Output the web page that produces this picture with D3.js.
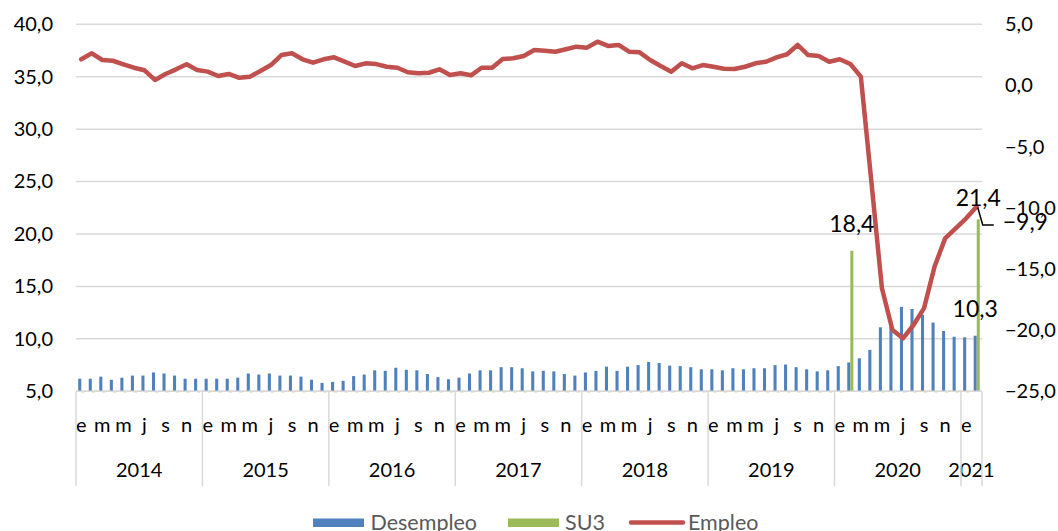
<!DOCTYPE html>
<html>
<head>
<meta charset="utf-8">
<script src="https://cdn.jsdelivr.net/npm/d3@7"></script>
<style>
  body { margin: 0; background: #fff; }
  svg { display: block; font-family: Lato, "Open Sans", sans-serif; }
</style>
</head>
<body>
<script>
var years = ["2014", "2015", "2016", "2017", "2018", "2019", "2020", "2021"];
var monthsPerYear = [12, 12, 12, 12, 12, 12, 12, 2];
var months = ["e", "f", "m", "a", "m", "j", "j", "a", "s", "o", "n", "d"];

// Desempleo (left axis), one value per month from e 2014 to f 2021
var desempleo = [
    6.2, 6.2, 6.4, 6.1, 6.3, 6.5, 6.5, 6.8, 6.7, 6.5, 6.2, 6.2,
    6.2, 6.2, 6.2, 6.3, 6.7, 6.6, 6.7, 6.5, 6.5, 6.4, 6.1, 5.8,
    5.9, 6.0, 6.45, 6.6, 7.0, 6.95, 7.25, 7.05, 7.0, 6.65, 6.35, 6.15,
    6.3, 6.7, 7.0, 7.0, 7.3, 7.3, 7.2, 6.9, 6.95, 6.9, 6.65, 6.5,
    6.8, 6.95, 7.35, 6.95, 7.35, 7.5, 7.8, 7.7, 7.45, 7.4, 7.3, 7.1,
    7.1, 7.0, 7.2, 7.1, 7.2, 7.2, 7.5, 7.55, 7.3, 7.1, 6.9, 7.0,
    7.4, 7.75, 8.15, 8.95, 11.1, 11.2, 13.05, 12.85, 12.3, 11.55, 10.75, 10.2,
    10.15, 10.3
];

// SU3 (left axis), only two months have a value
var su3 = [
    null, null, null, null, null, null, null, null, null, null, null, null,
    null, null, null, null, null, null, null, null, null, null, null, null,
    null, null, null, null, null, null, null, null, null, null, null, null,
    null, null, null, null, null, null, null, null, null, null, null, null,
    null, null, null, null, null, null, null, null, null, null, null, null,
    null, null, null, null, null, null, null, null, null, null, null, null,
    null, 18.4, null, null, null, null, null, null, null, null, null, null,
    null, 21.4
];

// Empleo (right axis)
var empleo = [
    2.14, 2.63, 2.08, 2.02, 1.73, 1.45, 1.24, 0.45, 0.94, 1.32, 1.73, 1.26,
    1.13, 0.77, 0.94, 0.63, 0.72, 1.18, 1.67, 2.49, 2.63, 2.14, 1.86, 2.14,
    2.3, 1.95, 1.59, 1.81, 1.75, 1.53, 1.45, 1.08, 1.0, 1.04, 1.32, 0.86,
    1.0, 0.83, 1.45, 1.45, 2.16, 2.22, 2.41, 2.9, 2.84, 2.76, 2.96, 3.17,
    3.09, 3.58, 3.23, 3.31, 2.76, 2.71, 2.08, 1.59, 1.13, 1.81, 1.4, 1.67,
    1.53, 1.37, 1.35, 1.53, 1.81, 1.94, 2.3, 2.55, 3.31, 2.49, 2.41, 1.94,
    2.14, 1.75, 0.72, -7.87, -16.58, -19.99, -20.67, -19.58, -18.2, -14.8, -12.5, -11.68,
    -10.86, -9.9
];

var leftTicks = [5, 10, 15, 20, 25, 30, 35, 40];
var rightTicks = [-25, -20, -15, -10, -5, 0, 5];

var width = 1058, height = 531;
var plot = { left: 76, right: 982, top: 24.3, bottom: 391.3 };

var fmt = function(d) { return d3.format(".1f")(d).replace(".", ","); };

var svg = d3.select("body").append("svg")
    .attr("width", width)
    .attr("height", height);

var n = desempleo.length;
var x = d3.scaleBand()
    .domain(d3.range(n))
    .range([plot.left, plot.right]);
var bw = x.bandwidth();

var xs = d3.scaleBand()
    .domain(["d", "s"])
    .range([bw * 0.21, bw * 0.79]);

var yL = d3.scaleLinear().domain([5, 40]).range([plot.bottom, plot.top]);
var yR = d3.scaleLinear().domain([-25, 5]).range([plot.bottom, plot.top]);

// gridlines
svg.append("g").selectAll("line")
    .data(leftTicks)
    .enter().append("line")
    .attr("x1", plot.left).attr("x2", plot.right)
    .attr("y1", function(d) { return yL(d); })
    .attr("y2", function(d) { return yL(d); })
    .attr("stroke", "#d9d9d9")
    .attr("stroke-width", 1.5);

// axes labels
var yAxisL = svg.append("g")
    .attr("transform", "translate(" + plot.left + ",0)")
    .call(d3.axisLeft(yL).tickValues(leftTicks).tickSize(0).tickPadding(23).tickFormat(fmt));
var yAxisR = svg.append("g")
    .attr("transform", "translate(" + plot.right + ",0)")
    .call(d3.axisRight(yR).tickValues(rightTicks).tickSize(0).tickPadding(23).tickFormat(fmt));
svg.selectAll(".domain").remove();
svg.selectAll(".tick text")
    .style("font-family", "Lato, 'Open Sans', sans-serif")
    .style("font-size", "20px")
    .attr("fill", "#000");

// bars
svg.append("g").selectAll("rect")
    .data(desempleo)
    .enter().append("rect")
    .attr("x", function(d, i) { return x(i) + xs("d"); })
    .attr("width", xs.bandwidth())
    .attr("y", function(d) { return yL(d); })
    .attr("height", function(d) { return yL(5) - yL(d); })
    .attr("fill", "#4f81bd");

var su3Data = su3.map(function(v, i) { return { i: i, v: v }; });
// empty SU3 months leave a tiny mark on the baseline
svg.append("g").selectAll("line")
    .data(su3Data.filter(function(d) { return d.v === null; }))
    .enter().append("line")
    .attr("x1", function(d) { return x(d.i) + xs("s"); })
    .attr("x2", function(d) { return x(d.i) + xs("s") + xs.bandwidth(); })
    .attr("y1", yL(5) + 0.5).attr("y2", yL(5) + 0.5)
    .attr("stroke", "#9bbb59")
    .attr("stroke-width", 1);

svg.append("g").selectAll("rect")
    .data(su3Data.filter(function(d) { return d.v !== null; }))
    .enter().append("rect")
    .attr("x", function(d) { return x(d.i) + xs("s"); })
    .attr("width", xs.bandwidth())
    .attr("y", function(d) { return yL(d.v); })
    .attr("height", function(d) { return yL(5) - yL(d.v); })
    .attr("fill", "#9bbb59");

// bottom axis line
svg.append("line")
    .attr("x1", plot.left).attr("x2", plot.right)
    .attr("y1", plot.bottom).attr("y2", plot.bottom)
    .attr("stroke", "#d9d9d9").attr("stroke-width", 1.5);

// empleo line
var line = d3.line()
    .x(function(d, i) { return x(i) + bw / 2; })
    .y(function(d) { return yR(d); });

svg.append("path")
    .datum(empleo)
    .attr("d", line)
    .attr("fill", "none")
    .attr("stroke", "#c0504d")
    .attr("stroke-width", 4.5)
    .attr("stroke-linejoin", "round")
    .attr("stroke-linecap", "round");

// category axis: months (every second one) and years
var catG = svg.append("g")
    .style("font-size", "20px")
    .attr("fill", "#000");

catG.selectAll("text.month")
    .data(d3.range(n).filter(function(i) { return i % 2 === 0; }))
    .enter().append("text")
    .attr("class", "month")
    .attr("x", function(i) { return x(i) + bw / 2; })
    .attr("y", 425)
    .attr("dy", "0.35em")
    .attr("text-anchor", "middle")
    .text(function(i) { return months[i % 12]; });

var starts = [0];
monthsPerYear.forEach(function(m, k) { starts.push(starts[k] + m); });

catG.selectAll("text.year")
    .data(years)
    .enter().append("text")
    .attr("class", "year")
    .attr("x", function(d, k) {
        var a = x(starts[k]);
        var b = starts[k + 1] < n ? x(starts[k + 1]) : plot.right;
        return (a + b) / 2;
    })
    .attr("y", 469.5)
    .attr("dy", "0.35em")
    .attr("text-anchor", "middle")
    .text(function(d) { return d; });

svg.append("g").selectAll("line")
    .data(starts)
    .enter().append("line")
    .attr("x1", function(s) { return s < n ? x(s) : plot.right; })
    .attr("x2", function(s) { return s < n ? x(s) : plot.right; })
    .attr("y1", plot.bottom).attr("y2", 486)
    .attr("stroke", "#d9d9d9").attr("stroke-width", 1.5);

// data labels
var lab = svg.append("g")
    .style("font-size", "23px")
    .attr("fill", "#000");

lab.append("text")
    .attr("x", x(73) + xs("s") + xs.bandwidth() / 2)
    .attr("y", yL(su3[73]) - 19)
    .attr("text-anchor", "middle")
    .text(fmt(su3[73]));

lab.append("text")
    .attr("x", x(85) + xs("s") + xs.bandwidth() / 2)
    .attr("y", yL(su3[85]) - 13)
    .attr("text-anchor", "middle")
    .text(fmt(su3[85]));

lab.append("text")
    .attr("x", x(85) + xs("d") + xs.bandwidth() / 2)
    .attr("y", yL(desempleo[85]) - 19)
    .attr("text-anchor", "middle")
    .text(fmt(desempleo[85]));

var lx = x(85) + bw / 2, ly = yR(empleo[85]);
svg.append("path")
    .attr("d", "M" + (lx + 1) + "," + (ly + 1) + "L" + (lx + 6) + "," + (ly + 18.5) + "L" + (lx + 17) + "," + (ly + 18.5))
    .attr("fill", "none")
    .attr("stroke", "#000")
    .attr("stroke-width", 1.5);

lab.append("text")
    .attr("x", lx + 26)
    .attr("y", ly + 23)
    .text(fmt(empleo[85]));

// legend
var legend = svg.append("g")
    .style("font-size", "21.5px")
    .attr("fill", "#595959");

legend.append("rect").attr("x", 313).attr("y", 518.5).attr("width", 51).attr("height", 8.5).attr("fill", "#4f81bd");
legend.append("text").attr("x", 370.5).attr("y", 522.5).attr("dy", "0.35em").text("Desempleo");
legend.append("rect").attr("x", 508).attr("y", 518.5).attr("width", 51).attr("height", 8.5).attr("fill", "#9bbb59");
legend.append("text").attr("x", 565).attr("y", 522.5).attr("dy", "0.35em").text("SU3");
legend.append("line").attr("x1", 631).attr("x2", 683).attr("y1", 522.5).attr("y2", 522.5)
    .attr("stroke", "#c0504d").attr("stroke-width", 4.5).attr("stroke-linecap", "round");
legend.append("text").attr("x", 688).attr("y", 522.5).attr("dy", "0.35em").text("Empleo");
</script>
</body>
</html>
